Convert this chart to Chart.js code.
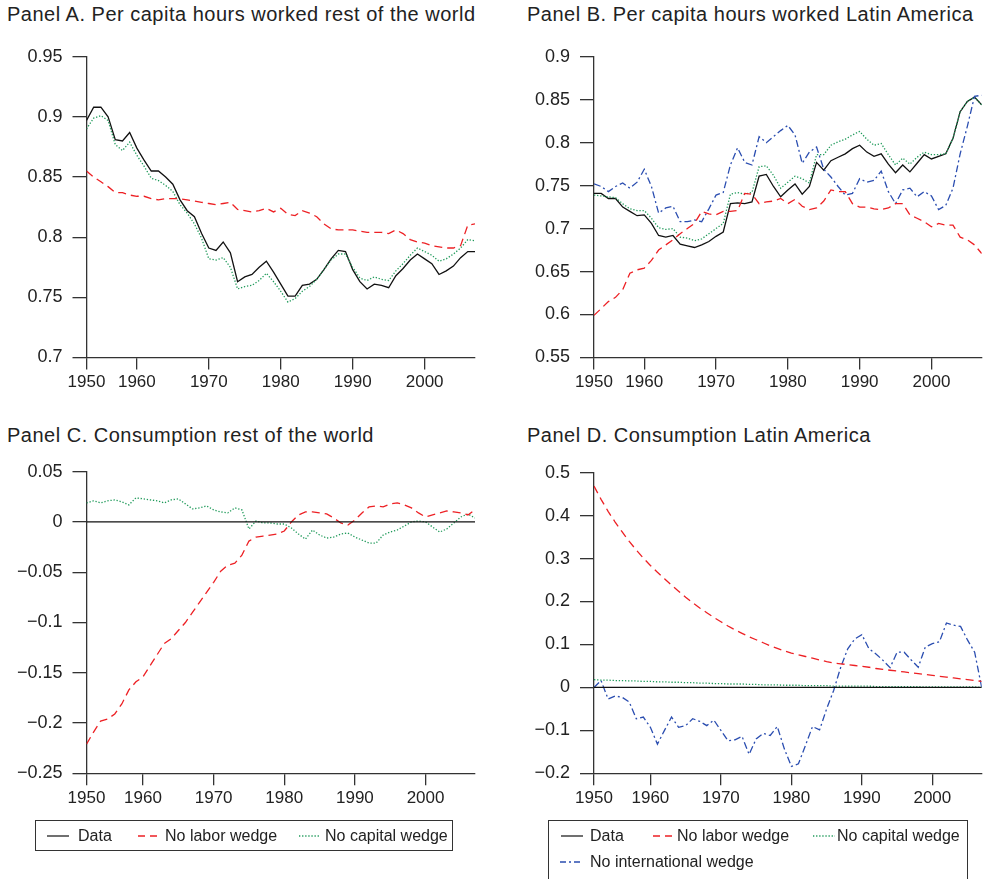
<!DOCTYPE html>
<html>
<head>
<meta charset="utf-8">
<script src="https://cdn.jsdelivr.net/npm/chart.js@4.4.1/dist/chart.umd.min.js"></script>
<style>
  html, body { margin:0; padding:0; background:#fff; }
  body { width:985px; height:879px; overflow:hidden; position:relative;
         font-family:'Liberation Sans', Arial, Helvetica, sans-serif; color:#222; }
  canvas { position:absolute; }
  .title { position:absolute; font-size:20px; line-height:24px; white-space:nowrap; letter-spacing:0.5px; }
  .lg { position:absolute; border:1.3px solid #333; box-sizing:border-box; }
  .lt { position:absolute; font-size:16px; line-height:20px; white-space:nowrap; }
  svg.s { position:absolute; overflow:visible; }
</style>
</head>
<body>
<div class="title" style="left:7px; top:2px;">Panel A. Per capita hours worked rest of the world</div>
<div class="title" style="left:527px; top:2px;">Panel B. Per capita hours worked Latin America</div>
<div class="title" style="left:7px; top:423px;">Panel C. Consumption rest of the world</div>
<div class="title" style="left:527px; top:423px;">Panel D. Consumption Latin America</div>

<canvas id="cA" width="490" height="400" style="left:0px; top:0px;"></canvas>
<canvas id="cB" width="490" height="400" style="left:495px; top:0px;"></canvas>
<canvas id="cC" width="490" height="420" style="left:0px; top:400px;"></canvas>
<canvas id="cD" width="490" height="420" style="left:495px; top:400px;"></canvas>

<!-- Legend under panel C -->
<div class="lg" style="left:35px; top:820px; width:418px; height:31px;"></div>
<svg class="s" width="1" height="1" style="left:0; top:0;">
  <line x1="47" y1="836" x2="69" y2="836" stroke="#222" stroke-width="1.3"/>
  <line x1="138" y1="836" x2="159" y2="836" stroke="rgb(237,32,36)" stroke-width="1.3" stroke-dasharray="7,5"/>
  <line x1="299" y1="836" x2="320" y2="836" stroke="#1f9a5a" stroke-width="1.3" stroke-dasharray="1.3,1.8"/>
  <line x1="561" y1="836" x2="583" y2="836" stroke="#222" stroke-width="1.3"/>
  <line x1="653" y1="836" x2="673" y2="836" stroke="rgb(237,32,36)" stroke-width="1.3" stroke-dasharray="7,5"/>
  <line x1="813" y1="836" x2="835" y2="836" stroke="#1f9a5a" stroke-width="1.3" stroke-dasharray="1.3,1.8"/>
  <line x1="560" y1="862" x2="583" y2="862" stroke="#2a4db0" stroke-width="1.3" stroke-dasharray="6,3,2,3"/>
</svg>
<div class="lt" style="left:78px; top:826px;">Data</div>
<div class="lt" style="left:165px; top:826px;">No labor wedge</div>
<div class="lt" style="left:325px; top:826px;">No capital wedge</div>

<!-- Legend under panel D -->
<div class="lg" style="left:548px; top:820px; width:420px; height:72px;"></div>
<div class="lt" style="left:590px; top:826px;">Data</div>
<div class="lt" style="left:677px; top:826px;">No labor wedge</div>
<div class="lt" style="left:837px; top:826px;">No capital wedge</div>
<div class="lt" style="left:590px; top:852px;">No international wedge</div>

<script>
// ---------- categories (years) ----------
const yearsAB = [1953,1954,1955,1956,1957,1958,1959,1960,1961,1962,1963,1964,1965,1966,1967,1968,1969,1970,1971,1972,1973,1974,1975,1976,1977,1978,1979,1980,1981,1982,1983,1984,1985,1986,1987,1988,1989,1990,1991,1992,1993,1994,1995,1996,1997,1998,1999,2000,2001,2002,2003,2004,2005,2006,2007];
const yearsCD = [1952,1953,1954,1955,1956,1957,1958,1959,1960,1961,1962,1963,1964,1965,1966,1967,1968,1969,1970,1971,1972,1973,1974,1975,1976,1977,1978,1979,1980,1981,1982,1983,1984,1985,1986,1987,1988,1989,1990,1991,1992,1993,1994,1995,1996,1997,1998,1999,2000,2001,2002,2003,2004,2005,2006,2007];

// ---------- Panel A: per capita hours worked, rest of the world ----------
const A_data    = [0.897,0.908,0.908,0.900,0.881,0.880,0.887,0.874,0.864,0.855,0.855,0.850,0.844,0.831,0.822,0.817,0.803,0.791,0.789,0.796,0.787,0.763,0.767,0.769,0.775,0.780,0.771,0.761,0.751,0.751,0.760,0.761,0.765,0.773,0.782,0.789,0.788,0.773,0.763,0.757,0.761,0.760,0.758,0.768,0.774,0.781,0.786,0.782,0.778,0.769,0.772,0.776,0.783,0.788,0.788];
const A_labor   = [0.855,0.850,0.846,0.842,0.837,0.837,0.835,0.834,0.834,0.832,0.831,0.832,0.832,0.832,0.831,0.830,0.829,0.828,0.827,0.828,0.829,0.823,0.822,0.821,0.822,0.824,0.821,0.824,0.819,0.818,0.822,0.820,0.817,0.811,0.807,0.806,0.806,0.806,0.805,0.804,0.804,0.804,0.803,0.806,0.803,0.798,0.796,0.795,0.793,0.792,0.791,0.791,0.793,0.810,0.811];
const A_capital = [0.890,0.899,0.901,0.897,0.877,0.872,0.879,0.868,0.859,0.849,0.847,0.843,0.838,0.827,0.820,0.811,0.799,0.782,0.781,0.783,0.775,0.757,0.759,0.760,0.764,0.770,0.763,0.755,0.746,0.749,0.755,0.759,0.765,0.773,0.781,0.786,0.786,0.775,0.766,0.764,0.767,0.765,0.764,0.772,0.778,0.785,0.791,0.788,0.785,0.780,0.782,0.786,0.791,0.798,0.797];

// ---------- Panel B: per capita hours worked, Latin America ----------
const B_data    = [0.741,0.741,0.735,0.735,0.725,0.720,0.715,0.716,0.706,0.692,0.690,0.692,0.682,0.680,0.678,0.681,0.685,0.691,0.696,0.729,0.730,0.729,0.731,0.761,0.763,0.749,0.737,0.745,0.752,0.740,0.749,0.777,0.768,0.779,0.783,0.787,0.793,0.797,0.789,0.784,0.787,0.775,0.765,0.774,0.766,0.776,0.786,0.781,0.784,0.787,0.805,0.836,0.848,0.853,0.844];
const B_labor   = [0.599,0.607,0.615,0.620,0.629,0.648,0.652,0.654,0.663,0.675,0.681,0.687,0.694,0.700,0.706,0.720,0.717,0.716,0.720,0.720,0.721,0.741,0.740,0.729,0.731,0.732,0.735,0.729,0.734,0.726,0.722,0.724,0.732,0.745,0.743,0.743,0.729,0.725,0.725,0.723,0.722,0.724,0.729,0.729,0.716,0.712,0.708,0.702,0.706,0.704,0.704,0.690,0.687,0.681,0.671];
const B_capital = [0.739,0.738,0.737,0.736,0.729,0.723,0.721,0.721,0.712,0.701,0.699,0.700,0.690,0.689,0.686,0.688,0.694,0.700,0.706,0.740,0.742,0.740,0.742,0.772,0.773,0.762,0.747,0.754,0.761,0.758,0.753,0.786,0.786,0.797,0.801,0.804,0.809,0.813,0.804,0.797,0.799,0.786,0.774,0.782,0.775,0.783,0.789,0.786,0.786,0.787,0.805,0.836,0.848,0.853,0.844];
const B_intl    = [0.752,0.749,0.743,0.749,0.753,0.747,0.754,0.769,0.749,0.718,0.724,0.726,0.708,0.708,0.710,0.708,0.723,0.739,0.742,0.774,0.794,0.777,0.774,0.807,0.800,0.807,0.814,0.820,0.809,0.776,0.789,0.795,0.769,0.760,0.749,0.739,0.741,0.758,0.754,0.756,0.767,0.743,0.729,0.745,0.747,0.737,0.743,0.738,0.722,0.727,0.747,0.787,0.819,0.854,0.855];

// ---------- Panel C: consumption, rest of the world ----------
const C_data    = [0,0,0,0,0,0,0,0,0,0,0,0,0,0,0,0,0,0,0,0,0,0,0,0,0,0,0,0,0,0,0,0,0,0,0,0,0,0,0,0,0,0,0,0,0,0,0,0,0,0,0,0,0,0,0,0];
const C_labor   = [-0.221,-0.209,-0.198,-0.196,-0.191,-0.181,-0.167,-0.159,-0.154,-0.143,-0.132,-0.121,-0.116,-0.108,-0.100,-0.090,-0.080,-0.070,-0.060,-0.049,-0.043,-0.041,-0.033,-0.019,-0.015,-0.014,-0.013,-0.012,-0.009,0.000,0.007,0.010,0.010,0.009,0.008,0.004,-0.001,-0.003,0.002,0.009,0.015,0.016,0.015,0.018,0.019,0.017,0.014,0.009,0.005,0.007,0.009,0.011,0.010,0.009,0.007,0.012];
const C_capital = [0.019,0.021,0.019,0.021,0.022,0.020,0.017,0.024,0.023,0.022,0.021,0.019,0.022,0.023,0.018,0.013,0.014,0.016,0.012,0.010,0.009,0.014,0.012,-0.007,0.001,-0.001,-0.001,-0.002,-0.002,-0.006,-0.012,-0.017,-0.008,-0.013,-0.016,-0.015,-0.012,-0.011,-0.015,-0.018,-0.021,-0.021,-0.013,-0.010,-0.008,-0.004,0.000,0.001,0.000,-0.005,-0.010,-0.007,-0.001,0.005,0.008,0.004];

// ---------- Panel D: consumption, Latin America ----------
const D_data    = [0,0,0,0,0,0,0,0,0,0,0,0,0,0,0,0,0,0,0,0,0,0,0,0,0,0,0,0,0,0,0,0,0,0,0,0,0,0,0,0,0,0,0,0,0,0,0,0,0,0,0,0,0,0,0,0];
const D_labor   = [0.469,0.438,0.410,0.385,0.362,0.340,0.320,0.301,0.284,0.268,0.253,0.238,0.224,0.210,0.197,0.185,0.174,0.163,0.153,0.143,0.134,0.126,0.118,0.111,0.104,0.097,0.091,0.085,0.080,0.076,0.072,0.068,0.064,0.060,0.057,0.055,0.053,0.051,0.049,0.047,0.044,0.042,0.040,0.038,0.036,0.034,0.032,0.030,0.028,0.026,0.024,0.022,0.020,0.018,0.016,0.014];
const D_capital = [0.018,0.017,0.017,0.016,0.016,0.015,0.015,0.014,0.014,0.013,0.013,0.012,0.012,0.011,0.011,0.010,0.010,0.009,0.009,0.008,0.008,0.008,0.007,0.007,0.006,0.006,0.006,0.005,0.005,0.005,0.004,0.004,0.004,0.004,0.003,0.003,0.003,0.003,0.003,0.003,0.002,0.002,0.002,0.002,0.002,0.002,0.002,0.001,0.001,0.001,0.001,0.001,0.001,0.001,0.001,0.000];
const D_intl    = [0.000,0.016,-0.027,-0.020,-0.023,-0.034,-0.073,-0.069,-0.093,-0.132,-0.100,-0.069,-0.093,-0.089,-0.073,-0.079,-0.089,-0.076,-0.100,-0.124,-0.122,-0.114,-0.156,-0.120,-0.107,-0.112,-0.091,-0.143,-0.184,-0.178,-0.135,-0.091,-0.099,-0.050,-0.007,0.047,0.090,0.113,0.123,0.090,0.078,0.063,0.046,0.082,0.082,0.064,0.047,0.094,0.102,0.106,0.150,0.145,0.142,0.110,0.082,0.000];

// ---------- tick positions and labels ----------
const xTicksAB = [1953,1960,1970,1980,1990,2000];
const xTicksCD = [1952,1960,1970,1980,1990,2000];
const xTickLabels = ['1950','1960','1970','1980','1990','2000'];
const yTicksA = [0.7,0.75,0.8,0.85,0.9,0.95];
const yLabelsA = ['0.7','0.75','0.8','0.85','0.9','0.95'];
const yTicksB = [0.55,0.6,0.65,0.7,0.75,0.8,0.85,0.9];
const yLabelsB = ['0.55','0.6','0.65','0.7','0.75','0.8','0.85','0.9'];
const yTicksC = [-0.25,-0.2,-0.15,-0.1,-0.05,0,0.05];
const yLabelsC = ['\u22120.25','\u22120.2','\u22120.15','\u22120.1','\u22120.05','0','0.05'];
const yTicksD = [-0.2,-0.1,0,0.1,0.2,0.3,0.4,0.5];
const yLabelsD = ['\u22120.2','\u22120.1','0','0.1','0.2','0.3','0.4','0.5'];

// ---------- styles ----------
const FONT = "'Liberation Sans', Arial, Helvetica, sans-serif";
const AX = '#333';
const TXT = '#222';
const RED = 'rgb(237,32,36)';
const GREEN = '#1f9a5a';
const BLUE = '#2a4db0';
const LW = 1.3;

function series(years, vals) { return years.map((y, i) => ({x: y, y: vals[i]})); }
function ds(label, years, vals, color, dash) {
  return { label, data: series(years, vals), borderColor: color, borderWidth: LW,
           borderDash: dash, pointRadius: 0, fill: false, tension: 0 };
}

function makeChart(id, o) {
  new Chart(document.getElementById(id), {
    type: 'line',
    data: { datasets: o.datasets },
    options: {
      responsive: false, animation: false, events: [],
      layout: { padding: o.padding },
      plugins: { legend: { display: false }, tooltip: { enabled: false } },
      scales: {
        x: {
          type: 'linear', min: o.xmin, max: o.xmax,
          afterBuildTicks: s => { s.ticks = o.xticks.map(v => ({ value: v })); },
          afterFit: s => { s.height = o.xh; },
          ticks: { autoSkip: false, maxRotation: 0, minRotation: 0, padding: 3, color: TXT,
                   font: { family: FONT, size: 17 },
                   callback: (v, i) => xTickLabels[i] },
          grid: { drawOnChartArea: false, drawTicks: true, tickLength: 12, color: AX,
                  tickColor: AX, lineWidth: LW, tickWidth: LW },
          border: { display: true, color: AX, width: LW }
        },
        y: {
          type: 'linear', min: o.ymin, max: o.ymax,
          afterBuildTicks: s => { s.ticks = o.yticks.map(v => ({ value: v })); },
          afterFit: s => { s.width = o.yw; },
          ticks: { autoSkip: false, padding: 10, color: TXT,
                   font: { family: FONT, size: 18 },
                   callback: (v, i) => o.ylabels[i] },
          grid: { drawOnChartArea: false, drawTicks: true, tickLength: 14, color: AX,
                  tickColor: AX, lineWidth: LW, tickWidth: LW },
          border: { display: true, color: AX, width: LW }
        }
      }
    }
  });
}

makeChart('cA', {
  datasets: [
    ds('No labor wedge', yearsAB, A_labor, RED, [8, 5]),
    ds('No capital wedge', yearsAB, A_capital, GREEN, [1.3, 1.8]),
    ds('Data', yearsAB, A_data, '#111', [])
  ],
  xmin: 1953, xmax: 2007, xticks: xTicksAB,
  ymin: 0.7, ymax: 0.95, yticks: yTicksA, ylabels: yLabelsA,
  padding: { top: 56.7, right: 15, bottom: 0, left: 0 }, yw: 86.5, xh: 42.5
});

makeChart('cB', {
  datasets: [
    ds('No labor wedge', yearsAB, B_labor, RED, [8, 5]),
    ds('No international wedge', yearsAB, B_intl, BLUE, [7, 3, 2, 3]),
    ds('No capital wedge', yearsAB, B_capital, GREEN, [1.3, 1.8]),
    ds('Data', yearsAB, B_data, '#111', [])
  ],
  xmin: 1953, xmax: 2007, xticks: xTicksAB,
  ymin: 0.55, ymax: 0.9, yticks: yTicksB, ylabels: yLabelsB,
  padding: { top: 56.7, right: 3.3, bottom: 0, left: 0 }, yw: 99, xh: 42.5
});

makeChart('cC', {
  datasets: [
    ds('Data', yearsCD, C_data, '#111', []),
    ds('No labor wedge', yearsCD, C_labor, RED, [8, 5]),
    ds('No capital wedge', yearsCD, C_capital, GREEN, [1.3, 1.8])
  ],
  xmin: 1952, xmax: 2007, xticks: xTicksCD,
  ymin: -0.25, ymax: 0.05, yticks: yTicksC, ylabels: yLabelsC,
  padding: { top: 71.7, right: 15, bottom: 0, left: 0 }, yw: 86.5, xh: 46.7
});

makeChart('cD', {
  datasets: [
    ds('Data', yearsCD, D_data, '#111', []),
    ds('No labor wedge', yearsCD, D_labor, RED, [8, 5]),
    ds('No capital wedge', yearsCD, D_capital, GREEN, [1.3, 1.8]),
    ds('No international wedge', yearsCD, D_intl, BLUE, [7, 3, 2, 3])
  ],
  xmin: 1952, xmax: 2007, xticks: xTicksCD,
  ymin: -0.2, ymax: 0.5, yticks: yTicksD, ylabels: yLabelsD,
  padding: { top: 72.7, right: 3.3, bottom: 0, left: 0 }, yw: 99, xh: 46.7
});
</script>
</body>
</html>
